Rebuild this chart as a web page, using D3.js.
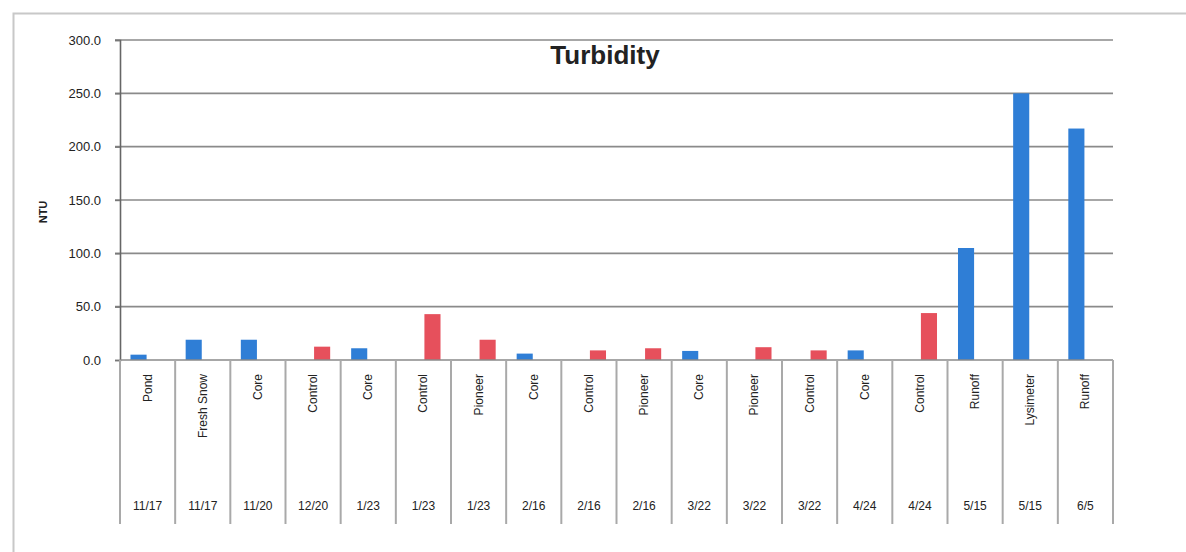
<!DOCTYPE html>
<html>
<head>
<meta charset="utf-8">
<script src="https://cdn.jsdelivr.net/npm/d3@7"></script>
<style>
  html, body { margin: 0; padding: 0; background: #fff; }
  svg { display: block; }
  text { font-family: "Liberation Sans Narrow", "Liberation Sans", Arial, sans-serif; fill: #222; }
</style>
</head>
<body>
<svg id="chart" width="1186" height="552"></svg>
<script>
// Turbidity samples: site label, sampling date, and NTU reading.
// Each sample belongs to one of two series (blue / red).
const sites = ["Pond", "Fresh Snow", "Core", "Control", "Core", "Control", "Pioneer", "Core", "Control",
               "Pioneer", "Core", "Pioneer", "Control", "Core", "Control", "Runoff", "Lysimeter", "Runoff"];
const dates = ["11/17", "11/17", "11/20", "12/20", "1/23", "1/23", "1/23", "2/16", "2/16",
               "2/16", "3/22", "3/22", "3/22", "4/24", "4/24", "5/15", "5/15", "6/5"];
const blueValues = [5, 19, 19, null, 11, null, null, 6, null, null, 8.5, null, null, 9, null, 105, 250, 217];
const redValues  = [null, null, null, 12.5, null, 43, 19, null, 9, 11, null, 12, 9, null, 44, null, null, null];
const yTicks = [0, 50, 100, 150, 200, 250, 300];
const seriesNames = ["blue", "red"];
const seriesColors = { blue: "#2f7ed6", red: "#e6505c" };

const svg = d3.select("#chart");
const W = 1186, H = 552;
const plot = { left: 120, right: 1113, top: 40, bottom: 360 };

// outer chart frame
svg.append("rect")
  .attr("x", 13.5).attr("y", 13.5)
  .attr("width", W + 20).attr("height", H + 20)
  .attr("fill", "none").attr("stroke", "#c8c8c8").attr("stroke-width", 2);

const idx = d3.range(sites.length);
const x = d3.scaleBand().domain(idx).range([plot.left, plot.right]).padding(0);
const xs = d3.scaleBand().domain(seriesNames).range([0, x.bandwidth()])
  .paddingInner(0.11).paddingOuter(0.58);
const y = d3.scaleLinear().domain([0, 300]).range([plot.bottom, plot.top]);

// horizontal gridlines
svg.append("g")
  .selectAll("line").data(yTicks.filter(t => t > 0)).join("line")
  .attr("x1", plot.left - 5).attr("x2", plot.right)
  .attr("y1", d => y(d)).attr("y2", d => y(d))
  .attr("stroke", "#8a8a8a").attr("stroke-width", 1.6);

// y axis with one-decimal tick labels
const yAxis = svg.append("g")
  .attr("transform", `translate(${plot.left},0)`)
  .call(d3.axisLeft(y).tickValues(yTicks).tickFormat(d3.format(".1f")).tickSize(5).tickPadding(14));
yAxis.select(".domain").attr("stroke", "#666").attr("stroke-width", 1.6);
yAxis.selectAll(".tick line").attr("stroke", "#777").attr("stroke-width", 1.4);
yAxis.selectAll(".tick text")
  .style("font-size", "13px").attr("fill", "#333");

// y axis title
svg.append("text")
  .attr("transform", `translate(47,${(plot.top + plot.bottom) / 2 + 12}) rotate(-90)`)
  .attr("text-anchor", "middle")
  .style("font-size", "11px").style("font-weight", "bold")
  .text("NTU");

// bars for both series
const rows = idx.map(i => ({ i, blue: blueValues[i], red: redValues[i] }));
svg.append("g")
  .selectAll("g").data(rows).join("g")
  .attr("transform", d => `translate(${x(d.i)},0)`)
  .selectAll("rect")
  .data(d => seriesNames.filter(s => d[s] != null).map(s => ({ s, v: d[s] })))
  .join("rect")
  .attr("x", d => xs(d.s))
  .attr("width", xs.bandwidth())
  .attr("y", d => y(d.v))
  .attr("height", d => y(0) - y(d.v))
  .attr("fill", d => seriesColors[d.s]);

// baseline
svg.append("line")
  .attr("x1", plot.left).attr("x2", plot.right)
  .attr("y1", y(0)).attr("y2", y(0))
  .attr("stroke", "#8a8a8a").attr("stroke-width", 1.6);

// category table: dividers between samples
const tableBottom = 524;
svg.append("g")
  .selectAll("line").data(d3.range(sites.length + 1)).join("line")
  .attr("x1", d => plot.left + d * x.step()).attr("x2", d => plot.left + d * x.step())
  .attr("y1", y(0)).attr("y2", tableBottom)
  .attr("stroke", "#a9a9a9").attr("stroke-width", 2);

// site names, rotated
svg.append("g")
  .selectAll("text").data(idx).join("text")
  .attr("transform", d => `translate(${x(d) + x.bandwidth() / 2 + 4},374) rotate(-90)`)
  .attr("text-anchor", "end")
  .style("font-size", "12px")
  .text(d => sites[d]);

// sampling dates
svg.append("g")
  .selectAll("text").data(idx).join("text")
  .attr("x", d => x(d) + x.bandwidth() / 2)
  .attr("y", 510)
  .attr("text-anchor", "middle")
  .style("font-size", "12px")
  .text(d => dates[d]);

// chart title
svg.append("text")
  .attr("x", 605).attr("y", 64)
  .attr("text-anchor", "middle")
  .style("font-size", "26px").style("font-weight", "bold")
  .text("Turbidity");
</script>
</body>
</html>
